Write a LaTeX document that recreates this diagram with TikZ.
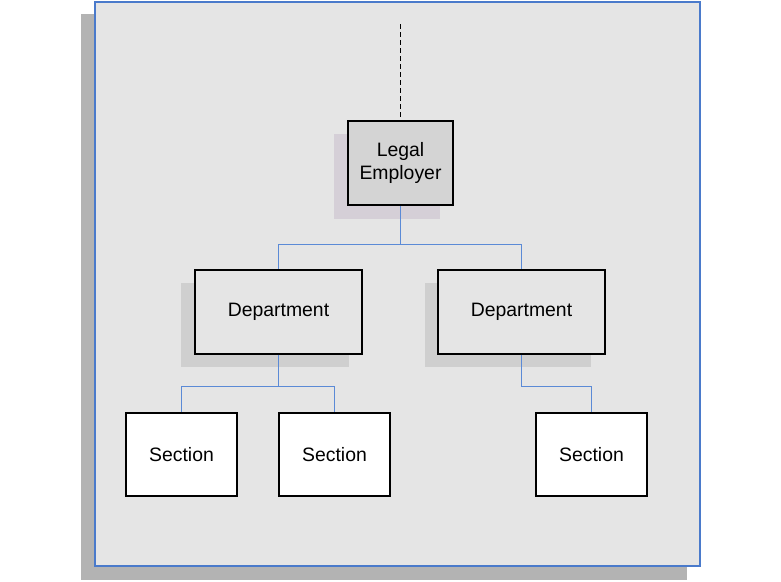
\documentclass[tikz,border=0pt]{standalone}
\usepackage{fontspec}
\setmainfont{Liberation Sans}
\definecolor{pagebg}{HTML}{E5E5E5}
\definecolor{pageshade}{HTML}{B3B3B3}
\definecolor{frameblue}{HTML}{4A7ACB}
\definecolor{linkblue}{HTML}{5B8AD6}
\definecolor{leshade}{HTML}{D5CFD7}
\definecolor{boxshade}{HTML}{CFCFCF}
\begin{document}
\begin{tikzpicture}[x=1pt,y=-1pt,>=stealth,
    unit/.style={draw=black,line width=1.5pt,inner sep=0pt,minimum height=84pt,align=center,font=\fontsize{19.4}{23}\selectfont},
    link/.style={draw=linkblue,line width=0.9pt},
    shade/.style={fill=boxshade}]
  \useasboundingbox (0,0) rectangle (781,581);
  % page
  \fill[pageshade](81,14) rectangle (687,580);
  \draw[frameblue,line width=2.2pt,fill=pagebg](95,2) rectangle (700,566);
  % shadows
  \fill[leshade](334,134) rectangle (440,219);
  \fill[shade](181,283) rectangle (349,367);
  \fill[shade](425,283) rectangle (591,367);
  % boxes
  \node[unit,fill=black!17,minimum width=105pt](le)at(400.5,163){Legal\\Employer};
  \node[unit,fill=pagebg,minimum width=167pt](d1)at(278.5,312){Department};
  \node[unit,fill=pagebg,minimum width=167pt](d2)at(521.5,312){Department};
  \node[unit,fill=white,minimum width=111pt,minimum height=83pt](s1)at(181.5,454.5){Section};
  \node[unit,fill=white,minimum width=111pt,minimum height=83pt](s2)at(334.5,454.5){Section};
  \node[unit,fill=white,minimum width=111pt,minimum height=83pt](s3)at(591.5,454.5){Section};
  \coordinate(top)at(400.5,24);
  \draw[dash pattern=on 5pt off 3pt,line width=0.9pt](top)--(le.north);
  \draw[link](le.south)--++(0,39)-|(d1.north);
  \draw[link](le.south)--++(0,39)-|(d2.north);
  \draw[link](d1.south)--++(0,32)-|(s1.north);
  \draw[link](d1.south)--++(0,32)-|(s2.north);
  \draw[link](d2.south)--++(0,32)-|(s3.north);
\end{tikzpicture}
\end{document}
